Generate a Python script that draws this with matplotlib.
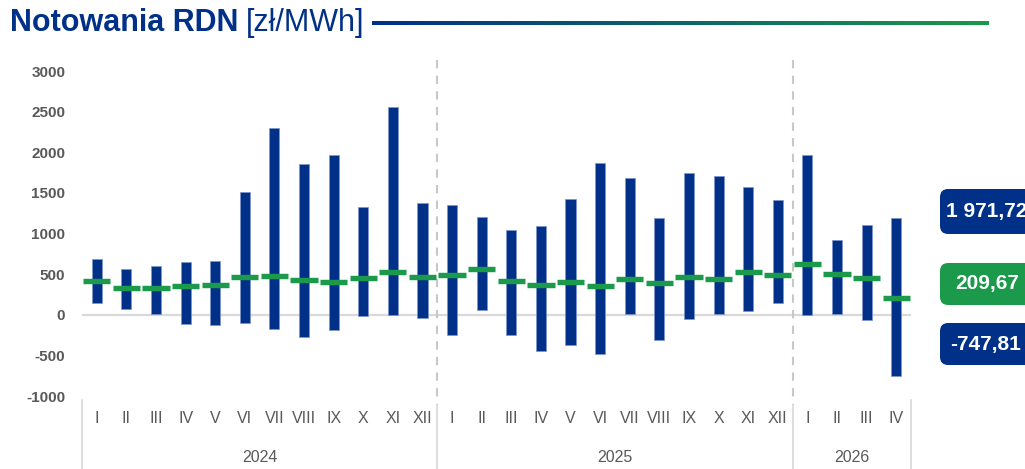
import matplotlib
matplotlib.use("Agg")
import matplotlib.pyplot as plt
import matplotlib.transforms as mtrans
import numpy as np
from matplotlib.patches import FancyBboxPatch
from matplotlib.lines import Line2D
from matplotlib.colors import LinearSegmentedColormap

months = ["I", "II", "III", "IV", "V", "VI", "VII", "VIII", "IX", "X", "XI", "XII",
          "I", "II", "III", "IV", "V", "VI", "VII", "VIII", "IX", "X", "XI", "XII",
          "I", "II", "III", "IV"]
years = ["2024", "2025", "2026"]
year_counts = [12, 12, 4]

max_vals = [688, 569, 597, 651, 667, 1506, 2296, 1850, 1972, 1330, 2554, 1379,
            1351, 1203, 1047, 1088, 1424, 1866, 1678, 1195, 1744, 1711, 1567, 1416,
            1971.72, 921, 1109, 1191]
min_vals = [147, 69, 4, -115, -123, -98, -176, -274, -184, -16, -8, -37,
            -250, 57, -246, -447, -373, -479, 4, -311, -53, 4, 41, 143,
            0, 12, -66, -747.81]
mean_vals = [413, 327, 327, 352, 364, 462, 474, 425, 401, 450, 524, 462,
             487, 560, 413, 364, 401, 352, 437, 388, 462, 437, 524, 487,
             621, 499, 450, 209.67]

badge_labels = ["1 971,72", "209,67", "-747,81"]
yticks = [-1000, -500, 0, 500, 1000, 1500, 2000, 2500, 3000]

NAVY = "#003087"
GREEN = "#1a9a4a"
GRAY = "#595959"
FONT = ["Liberation Sans", "DejaVu Sans"]
plt.rcParams["font.family"] = FONT

W, H = 1025, 469
fig = plt.figure(figsize=(W / 100, H / 100), dpi=100)

def fx(px):
    return px / W

def fy(py):
    return 1 - py / H

ax = fig.add_axes([fx(82), fy(396), fx(911) - fx(82), fy(71) - fy(396)])
x = np.arange(len(months))
maxa = np.array(max_vals)
mina = np.array(min_vals)
ax.bar(x, maxa - mina, bottom=mina, width=0.34, color=NAVY,
       edgecolor="#7d95cc", linewidth=0.5, zorder=3)
ax.hlines(mean_vals, x - 0.46, x + 0.46, colors=GREEN, linewidth=3.9,
          capstyle="butt", zorder=4)
ax.axhline(0, color="#d9d9d9", lw=1.6, zorder=2)

ax.set_xlim(-0.5, len(months) - 0.5)
ax.set_ylim(-1000, 3000)
ax.set_yticks(yticks)
ax.set_yticklabels([str(v) for v in yticks], fontsize=11, color=GRAY,
                   fontweight="bold")
ax.tick_params(axis="y", length=0, pad=12)
ax.set_xticks([])
for s in ax.spines.values():
    s.set_visible(False)

btr = mtrans.blended_transform_factory(ax.transData, fig.transFigure)

for i, m in enumerate(months):
    ax.text(i, fy(418), m, transform=btr, ha="center", va="center",
            fontsize=11.5, color=GRAY, clip_on=False)

start = 0
bounds = [-0.5]
for yname, c in zip(years, year_counts):
    mid = start + (c - 1) / 2
    ax.text(mid, fy(457), yname, ha="center", va="center", fontsize=11.5,
            color=GRAY, clip_on=False, transform=btr)
    start += c
    bounds.append(start - 0.5)

for k, b in enumerate(bounds):
    inner = 0 < k < len(bounds) - 1
    if inner:
        ax.add_line(Line2D([b, b], [fy(60), fy(405)], transform=btr, color="#c8c8c8",
                           lw=1.5, ls=(0, (4, 3.5)), clip_on=False))
    ax.add_line(Line2D([b, b], [fy(405 if inner else 400), fy(469)],
                       transform=btr, color="#d9d9d9", lw=1.2, clip_on=False))

# title
t1 = fig.text(fx(10), fy(23), "Notowania RDN", fontsize=22, fontweight="bold",
              color=NAVY, va="center", ha="left")
fig.canvas.draw()
bb = t1.get_window_extent(renderer=fig.canvas.get_renderer())
t2 = fig.text(bb.x1 / W + fx(7), fy(23), "[zł/MWh]", fontsize=22, color=NAVY,
              va="center", ha="left")
fig.canvas.draw()
bb2 = t2.get_window_extent(renderer=fig.canvas.get_renderer())
line_start = bb2.x1 + 8

# gradient line
gax = fig.add_axes([line_start / W, fy(25), fx(988) - line_start / W, 4 / H])
grad = np.linspace(0, 1, 256).reshape(1, -1)
cmap = LinearSegmentedColormap.from_list("g", [NAVY, GREEN])
gax.imshow(grad, aspect="auto", cmap=cmap)
gax.axis("off")

# right badges
badges = [(189, 234, NAVY, 946), (263, 305, GREEN, 955), (323, 365, NAVY, 950)]
for (top, bot, col, tx), lab in zip(badges, badge_labels):
    p = FancyBboxPatch((fx(940), fy(bot)), fx(1060) - fx(940), fy(top) - fy(bot),
                       boxstyle="round,pad=0,rounding_size=0.008",
                       transform=fig.transFigure, facecolor=col, edgecolor="none",
                       mutation_aspect=W / H)
    fig.patches.append(p)
    fig.text(fx(tx), (fy(top) + fy(bot)) / 2, lab, color="white", fontsize=15,
             fontweight="bold", va="center", ha="left")

fig.savefig("out.png", dpi=100)
